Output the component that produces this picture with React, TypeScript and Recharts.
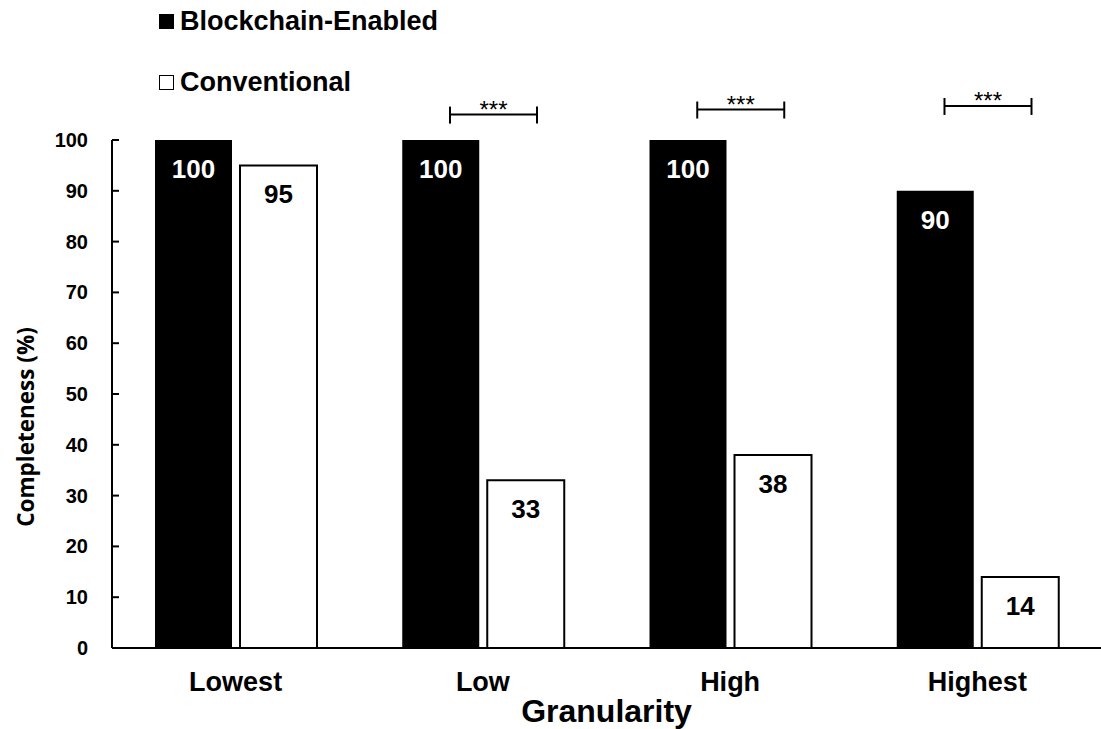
import React from 'react';
import { BarChart, Bar, XAxis, YAxis, LabelList, Label } from 'recharts';

const categories = ['Lowest', 'Low', 'High', 'Highest'];
const blockchainValues = [100, 100, 100, 90];
const conventionalValues = [95, 33, 38, 14];
// height (in % units) of the *** significance bracket, null = no bracket
const sigLevels = [null, 105, 106, 106.7];
const yTicks = [0, 10, 20, 30, 40, 50, 60, 70, 80, 90, 100];

const data = categories.map((name, i) => ({
  name,
  blockchain: blockchainValues[i],
  conventional: conventionalValues[i],
  sig: sigLevels[i],
}));

const FONT = '"Liberation Sans", Arial, sans-serif';
const AXIS_X = 112;

const YTick = ({ x, y, payload }: any) => (
  <g>
    <line x1={AXIS_X} x2={AXIS_X + 7} y1={y} y2={y} stroke="#000" strokeWidth={2} />
    <text
      x={x}
      y={y}
      textAnchor="end"
      dominantBaseline="central"
      fontFamily={FONT}
      fontWeight="bold"
      fontSize={20}
      fill="#000"
    >
      {payload.value}
    </text>
  </g>
);

const XTick = ({ x, y, payload }: any) => (
  <text x={x} y={y + 41} textAnchor="middle" fontFamily={FONT} fontWeight="bold" fontSize={27} fill="#000">
    {payload.value}
  </text>
);

const valueLabel = (color: string) => (props: any) => {
  const { x, y, width, value } = props;
  return (
    <text
      x={x + width / 2}
      y={y + 29}
      textAnchor="middle"
      dominantBaseline="central"
      fontFamily={FONT}
      fontWeight="bold"
      fontSize={26}
      fill={color}
    >
      {value}
    </text>
  );
};

// bracket drawn from the blockchain bar, using the bar's own scale (height/value)
const SigBracket = (props: any) => {
  const { x, y, width, height, index } = props;
  const level = sigLevels[index];
  if (level == null) return null;
  const v = blockchainValues[index];
  const base = y + height;
  const by = base - (level * height) / v;
  const x1 = x + width * 0.62;
  const x2 = x + width * 1.75;
  return (
    <g stroke="#000" strokeWidth={2}>
      <line x1={x1} x2={x2} y1={by} y2={by} />
      <line x1={x1} x2={x1} y1={by - 8} y2={by + 9} />
      <line x1={x2} x2={x2} y1={by - 8} y2={by + 9} />
      <text
        x={(x1 + x2) / 2}
        y={by + 3}
        textAnchor="middle"
        fontFamily={FONT}
        fontSize={24}
        fill="#000"
        stroke="none"
      >
        ***
      </text>
    </g>
  );
};

// y title sits a little below the plot's middle in the original
const YTitle = ({ viewBox }: any) => {
  const cx = 25;
  const cy = viewBox.y + viewBox.height / 2 + 33;
  return (
    <text
      x={cx}
      y={cy}
      transform={`rotate(-90 ${cx} ${cy})`}
      textAnchor="middle"
      dominantBaseline="central"
      fontFamily='"Open Sans", sans-serif'
      fontWeight="bold"
      fontSize={22.5}
      fill="#000"
    >
      Completeness (%)
    </text>
  );
};

function LegendBox() {
  const row = (top: number, fill: string, label: string) => (
    <div style={{ position: 'absolute', top, left: 159, display: 'flex', alignItems: 'center', lineHeight: 1 }}>
      <div style={{ width: 13, height: 13, background: fill, border: '1.5px solid #000', marginRight: 6 }} />
      <span style={{ fontFamily: FONT, fontWeight: 'bold', fontSize: 27, color: '#000' }}>{label}</span>
    </div>
  );
  return (
    <>
      {row(8, '#000', 'Blockchain-Enabled')}
      {row(69, '#fff', 'Conventional')}
    </>
  );
}

export default function App() {
  return (
    <div style={{ position: 'absolute', left: 0, top: 0, width: 1101, height: 729, background: '#fff' }}>
      <LegendBox />
      <BarChart
        width={1101}
        height={729}
        data={data}
        margin={{ top: 140, right: 0, bottom: 0, left: 0 }}
        barCategoryGap={43}
        barGap={8}
      >
        <XAxis
          dataKey="name"
          height={81}
          axisLine={{ stroke: '#000', strokeWidth: 2 }}
          tickLine={false}
          tickSize={0}
          tick={<XTick />}
          interval={0}
          label={{
            value: 'Granularity',
            position: 'insideBottom',
            offset: 7,
            fontFamily: FONT,
            fontWeight: 'bold',
            fontSize: 32,
            fill: '#000',
          }}
        />
        <YAxis
          width={112}
          domain={[0, 100]}
          ticks={yTicks}
          interval={0}
          axisLine={{ stroke: '#000', strokeWidth: 2 }}
          tickLine={false}
          tickSize={0}
          tickMargin={24}
          tick={<YTick />}
        >
          <Label content={<YTitle />} />
        </YAxis>
        <Bar dataKey="blockchain" fill="#000" isAnimationActive={false}>
          <LabelList dataKey="blockchain" content={valueLabel('#fff')} />
          <LabelList dataKey="sig" content={<SigBracket />} />
        </Bar>
        <Bar dataKey="conventional" fill="#fff" stroke="#000" strokeWidth={2} isAnimationActive={false}>
          <LabelList dataKey="conventional" content={valueLabel('#000')} />
        </Bar>
      </BarChart>
    </div>
  );
}
